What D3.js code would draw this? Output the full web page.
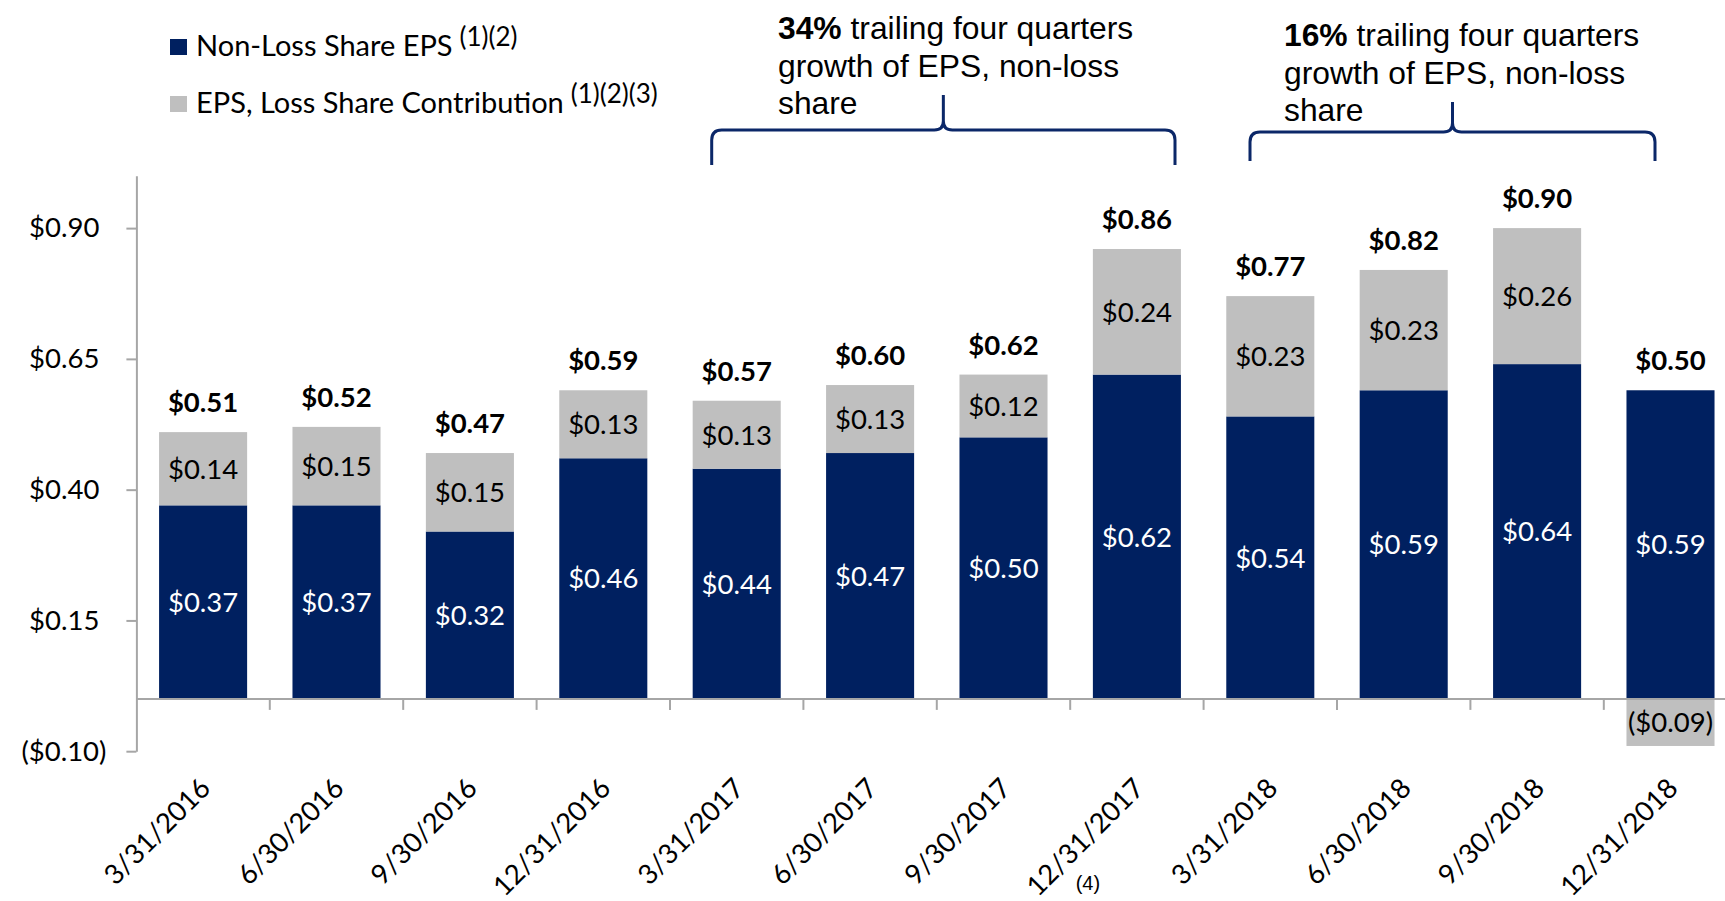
<!DOCTYPE html>
<html><head><meta charset="utf-8">
<script src="https://cdn.jsdelivr.net/npm/d3@7"></script>
<style>body{margin:0;background:#fff} svg{display:block}</style>
</head><body><svg id="chart" width="1725" height="901"></svg>
<script>
// ---------------- DATA ----------------
const categories = ["3/31/2016","6/30/2016","9/30/2016","12/31/2016","3/31/2017","6/30/2017","9/30/2017","12/31/2017","3/31/2018","6/30/2018","9/30/2018","12/31/2018"];
const nonLossEPS   = [0.37,0.37,0.32,0.46,0.44,0.47,0.50,0.62,0.54,0.59,0.64,0.59];
const lossShareEPS = [0.14,0.15,0.15,0.13,0.13,0.13,0.12,0.24,0.23,0.23,0.26,-0.09];
const totalEPS     = [0.51,0.52,0.47,0.59,0.57,0.60,0.62,0.86,0.77,0.82,0.90,0.50];
const yTicks = [-0.10,0.15,0.40,0.65,0.90];
const yDomain = [-0.10,1.00];
const seriesKeys = ["nonLoss","lossShare"];
const seriesNames = ["Non-Loss Share EPS","EPS, Loss Share Contribution"];
const seriesNotes = ["(1)(2)","(1)(2)(3)"];
const categoryNoteCat = "12/31/2017";
const categoryNote = "(4)";
const annoBold = ["34%","16%"];
const annoLines = [[" trailing four quarters","growth of EPS, non-loss","share"],
                   [" trailing four quarters","growth of EPS, non-loss","share"]];

// ---------------- SETUP ----------------
const NAVY = "#002060", GRAY = "#BFBFBF", AXIS = "#A6A6A6";
const FONT = "Lato, 'Open Sans', sans-serif";
const ARIAL = "'Liberation Sans', Arial, sans-serif";
const svg = d3.select("#chart");

const rows = categories.map((c,i)=>({cat:c, nonLoss:nonLossEPS[i], lossShare:lossShareEPS[i], total:totalEPS[i]}));
const stacked = d3.stack().keys(seriesKeys).offset(d3.stackOffsetDiverging)(rows);

const x = d3.scaleBand().domain(categories).range([136.4,1737.2]).paddingInner(0.34).paddingOuter(0.17);
const y = d3.scaleLinear().domain(yDomain).range([751.2,175.8]);
const color = d3.scaleOrdinal().domain(seriesKeys).range([NAVY,GRAY]);
const fmt = v => v<0 ? "($"+Math.abs(v).toFixed(2)+")" : "$"+v.toFixed(2);

// bars
const g = svg.append("g");
g.selectAll("g.series").data(stacked).join("g").attr("class","series")
  .attr("fill", d=>color(d.key))
  .selectAll("rect").data(d=>d.map(p=>({p, key:d.key}))).join("rect")
  .attr("x", d=>x(d.p.data.cat))
  .attr("width", x.bandwidth())
  .attr("y", d=>y(Math.max(d.p[0],d.p[1])))
  .attr("height", d=>Math.abs(y(d.p[0])-y(d.p[1])));

// segment labels
stacked.forEach(s=>{
  g.selectAll(null).data(s).join("text")
    .attr("x", d=>x(d.data.cat)+x.bandwidth()/2)
    .attr("y", d=>(y(d[0])+y(d[1]))/2)
    .attr("dy","0.36em")
    .attr("text-anchor","middle")
    .style("font-family",FONT).style("font-size","27.5px")
    .attr("fill", s.key==="nonLoss" ? "#fff" : "#000")
    .text(d=>fmt(d.data[s.key]));
});

// total labels
g.selectAll("text.total").data(rows).join("text").attr("class","total")
  .attr("x", d=>x(d.cat)+x.bandwidth()/2)
  .attr("y", d=>y(d.nonLoss + Math.max(0,d.lossShare)) - 20)
  .attr("text-anchor","middle")
  .style("font-family",FONT).style("font-size","27.5px").style("font-weight","bold")
  .text(d=>fmt(d.total));

// y axis
const yAxis = svg.append("g").attr("transform","translate(136.4,0)")
  .call(d3.axisLeft(y).tickValues(yTicks).tickSize(10).tickSizeOuter(0).tickFormat(fmt));
yAxis.select(".domain").attr("stroke",AXIS).attr("stroke-width",2);
yAxis.selectAll(".tick line").attr("stroke",AXIS).attr("stroke-width",2);
yAxis.selectAll(".tick text").style("font-family",FONT).style("font-size","27.5px").attr("fill","#000")
  .attr("x", d=> d<0 ? -30 : -37);

// x axis baseline + boundary ticks
const y0 = y(0);
const step = x.step();
svg.append("line").attr("x1",136.4).attr("x2",1725).attr("y1",y0).attr("y2",y0)
  .attr("stroke",AXIS).attr("stroke-width",2);
svg.selectAll("line.bt").data(categories.slice(1)).join("line").attr("class","bt")
  .attr("x1", d=>x(d)-step*x.paddingInner()/2).attr("x2", d=>x(d)-step*x.paddingInner()/2)
  .attr("y1", y0).attr("y2", y0+11).attr("stroke",AXIS).attr("stroke-width",2);

// x labels via axis
const xAxis = svg.append("g").attr("transform",`translate(0,${y0})`)
  .call(d3.axisBottom(x).tickSize(0).tickSizeOuter(0));
xAxis.select(".domain").remove();
xAxis.selectAll(".tick text")
  .attr("y",0).attr("dy",0)
  .attr("transform","translate(9,91) rotate(-45)")
  .attr("text-anchor","end")
  .style("font-family",FONT).style("font-size","27.5px").attr("fill","#000");
xAxis.selectAll(".tick").filter(d=>d===categoryNoteCat).append("text")
  .attr("x",-49).attr("y",191).attr("text-anchor","middle")
  .style("font-family","'Liberation Sans Narrow','Liberation Sans',sans-serif").style("font-size","20px")
  .attr("fill","#000").text(categoryNote);

// legend
const leg = svg.append("g");
const legY = [47, 104];
seriesKeys.forEach((k,i)=>{
  leg.append("rect").attr("x",170).attr("y",legY[i]-8).attr("width",17).attr("height",16).attr("fill",color(k));
  const t = leg.append("text").attr("x",196).attr("y",legY[i]+9)
    .style("font-family",FONT).style("font-size","29px").attr("fill","#000");
  t.append("tspan").text(seriesNames[i]);
  t.append("tspan").attr("dx",7).attr("dy",-10).style("font-size","26px").text(seriesNotes[i]);
});

// annotations
const annoPos = [{x:778, y:39, b:[711.7,1175,130,95,165]}, {x:1284, y:46, b:[1250,1655,132,102,161]}];
annoPos.forEach((a,i)=>{
  const t = svg.append("text").style("font-family",ARIAL).style("font-size","31.8px").attr("fill","#000");
  annoLines[i].forEach((ln,j)=>{
    if(j===0){
      t.append("tspan").attr("x",a.x).attr("y",a.y).style("font-weight","bold").text(annoBold[i]);
      t.append("tspan").text(ln);
    } else {
      t.append("tspan").attr("x",a.x).attr("y",a.y+37.5*j).text(ln);
    }
  });
  const [x0,x1,yh,yt,yb] = a.b, xc=(x0+x1)/2, r=10, q=9;
  const p = d3.path();
  p.moveTo(x0,yb); p.lineTo(x0,yh+r); p.quadraticCurveTo(x0,yh,x0+r,yh);
  p.lineTo(xc-q,yh); p.quadraticCurveTo(xc,yh,xc,yh-q); p.lineTo(xc,yt);
  p.moveTo(xc,yh-q); p.quadraticCurveTo(xc,yh,xc+q,yh);
  p.lineTo(x1-r,yh); p.quadraticCurveTo(x1,yh,x1,yh+r); p.lineTo(x1,yb);
  svg.append("path").attr("d",p.toString()).attr("fill","none").attr("stroke","#0B2768").attr("stroke-width",3);
});
</script></body></html>
